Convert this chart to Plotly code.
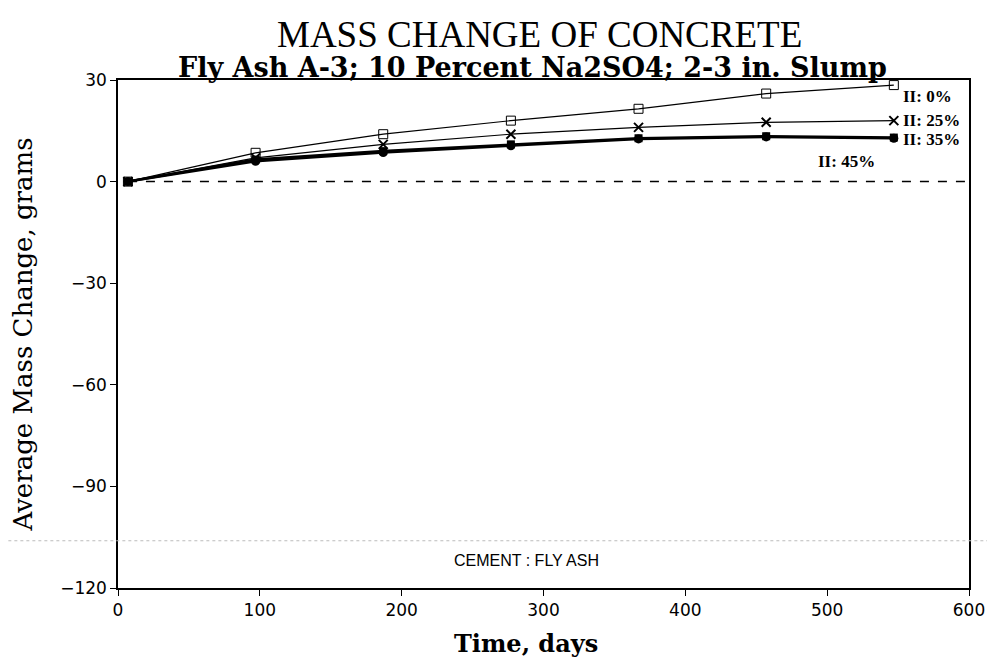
import plotly.graph_objects as go

# Mass change of concrete, fly ash A-3, 10% Na2SO4
days = [7, 97, 187, 277, 367, 457, 547]
mass_0 = [0, 8.5, 14.0, 18.0, 21.5, 26.0, 28.5]
mass_25 = [0, 7.0, 11.0, 14.0, 16.0, 17.5, 18.0]
mass_35 = [0, 6.5, 9.0, 11.0, 12.8, 13.4, 13.0]
mass_45 = [0, 6.0, 8.6, 10.6, 12.6, 13.2, 12.8]

series = [
    ("II: 0%", mass_0, dict(symbol="square-open", size=9, color="black"), 1.2),
    ("II: 25%", mass_25, dict(symbol="x-thin-open", size=9, color="black",
                              line=dict(width=2, color="black")), 1.2),
    ("II: 35%", mass_35, dict(symbol="square", size=8, color="black"), 2.5),
    ("II: 45%", mass_45, dict(symbol="circle", size=9, color="black"), 2.5),
]

# label positions at right end (day, grams)
label_x = [552, 552, 552, 492]
label_y = [25.0, 18.0, 12.5, 6.0]

fig = go.Figure()

for name, vals, marker, lw in series:
    fig.add_trace(go.Scatter(
        x=days, y=vals, mode="lines+markers", name=name,
        line=dict(color="black", width=lw),
        marker=marker,
    ))

# zero reference line
fig.add_shape(type="line", x0=7, x1=600, y0=0, y1=0, xref="x", yref="y",
              line=dict(color="black", width=1.5, dash="dash"))

for (name, _, _, _), lx, ly in zip(series, label_x, label_y):
    fig.add_annotation(x=lx, y=ly, text=f"<b>{name}</b>", showarrow=False,
                       xanchor="left", yanchor="middle",
                       font=dict(family="Liberation Serif", size=17, color="black"))

fig.add_annotation(x=288, y=-112, text="CEMENT : FLY ASH", showarrow=False,
                   font=dict(family="Liberation Sans Narrow, Liberation Sans",
                             size=16, color="black"))

# title and subtitle
fig.add_annotation(x=0.495, y=1, xref="paper", yref="paper",
                   yanchor="middle", yshift=46,
                   text="MASS CHANGE OF CONCRETE", showarrow=False,
                   font=dict(family="Liberation Serif", size=37, color="black"))
fig.add_annotation(x=0.487, y=1, xref="paper", yref="paper",
                   yanchor="middle", yshift=13,
                   text="<b>Fly Ash A-3; 10 Percent Na2SO4; 2-3 in. Slump</b>",
                   showarrow=False,
                   font=dict(family="DejaVu Serif", size=27, color="black"))

# x axis title placed like the original
fig.add_annotation(x=0.48, y=0, xref="paper", yref="paper",
                   yanchor="middle", yshift=-55,
                   text="<b>Time, days</b>", showarrow=False,
                   font=dict(family="DejaVu Serif", size=24, color="black"))

# faint scan line across the page
fig.add_shape(type="line", xref="paper", yref="paper", x0=-0.15, x1=1.03,
              y0=0.093, y1=0.093, line=dict(color="#bbbbbb", width=1, dash="dot"))

tick_font = dict(family="DejaVu Sans", size=17, color="black")

fig.update_xaxes(
    range=[0, 600], tickvals=[0, 100, 200, 300, 400, 500, 600],
    tickfont=tick_font, ticks="outside", ticklen=6, tickcolor="black",
    ticklabeloverflow="allow",
    showline=True, linecolor="black", linewidth=1.5, mirror=True,
    showgrid=False, zeroline=False, automargin=False,
)
fig.update_yaxes(
    range=[-120, 30], tickvals=[-120, -90, -60, -30, 0, 30],
    ticktext=["\u2212120", "\u221290", "\u221260", "\u221230", "0", "30"],
    title=dict(text="Average Mass Change, grams", font=dict(
        family="DejaVu Serif", size=26, color="black"), standoff=30),
    tickfont=tick_font, ticks="outside", ticklen=6, tickcolor="black",
    showline=True, linecolor="black", linewidth=1.5, mirror=True,
    showgrid=False, zeroline=False, automargin=False,
)

# the page body adds 8px around the figure, so it is sized to fit the window
fig.update_layout(
    width=979, height=650,
    margin=dict(l=110, r=18, t=72, b=70),
    plot_bgcolor="white", paper_bgcolor="white",
    showlegend=False,
)

fig.write_html("out.html")
